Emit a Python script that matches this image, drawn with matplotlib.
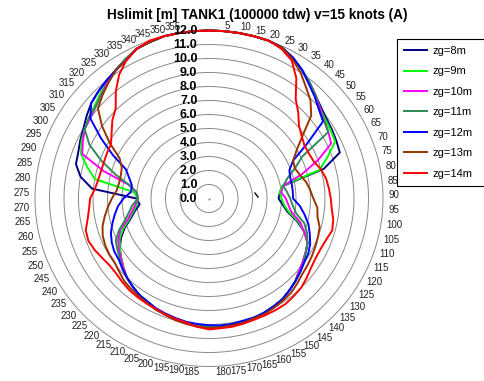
import matplotlib
matplotlib.use('Agg')
import matplotlib.pyplot as plt
import numpy as np

plt.rcParams['font.family'] = ['Liberation Sans', 'DejaVu Sans']

# headings every 5 degrees, clockwise from the top
angles = np.arange(0, 360, 5)

zg_8 = [12.0, 12.0, 12.0, 12.0, 12.0, 11.9, 11.6, 11.2, 10.8, 10.4, 10.1, 9.9,
        9.8, 9.7, 9.6, 8.2, 5.2, 4.9, 4.8, 5.1, 5.5, 6.3, 7.0, 7.5,
        7.7, 7.9, 8.1, 8.4, 8.6, 8.8, 8.9, 9.0, 9.1, 9.1, 9.15, 9.2,
        9.2, 9.05, 9.0, 8.9, 8.8, 8.7, 8.5, 8.4, 8.2, 8.0, 7.7, 7.4,
        7.1, 6.7, 6.2, 5.6, 5.2, 4.8, 5.0, 8.1, 9.0, 9.5, 9.6, 9.8,
        10.0, 10.3, 10.6, 10.8, 11.0, 11.2, 11.5, 11.8, 11.9, 12.0, 12.0, 12.0]
zg_9 = [12.0, 12.0, 12.0, 12.0, 12.0, 11.9, 11.6, 11.2, 10.8, 10.4, 10.0, 9.8,
        9.7, 9.6, 8.7, 7.9, 5.1, 4.9, 5.0, 5.2, 5.6, 6.4, 7.0, 7.5,
        7.7, 7.9, 8.1, 8.4, 8.6, 8.8, 8.9, 9.0, 9.1, 9.1, 9.15, 9.2,
        9.2, 9.05, 9.0, 8.9, 8.8, 8.7, 8.5, 8.4, 8.2, 8.0, 7.7, 7.4,
        7.1, 6.8, 6.3, 5.7, 5.3, 5.0, 4.9, 5.2, 8.0, 8.7, 9.4, 9.7,
        9.9, 10.1, 10.3, 10.6, 10.9, 11.2, 11.5, 11.8, 11.9, 12.0, 12.0, 12.0]
zg_10 = [12.0, 12.0, 12.0, 12.0, 12.0, 11.9, 11.6, 11.2, 10.8, 10.4, 10.0, 9.7,
         9.5, 9.3, 8.0, 6.6, 5.2, 5.0, 5.3, 5.5, 5.8, 6.5, 7.0, 7.5,
         7.7, 7.9, 8.1, 8.4, 8.6, 8.8, 8.9, 9.0, 9.1, 9.1, 9.15, 9.2,
         9.2, 9.05, 9.0, 8.9, 8.8, 8.7, 8.5, 8.4, 8.2, 8.0, 7.7, 7.4,
         7.2, 6.9, 6.5, 5.8, 5.4, 5.1, 4.9, 5.0, 5.6, 7.5, 9.3, 9.6,
         9.9, 10.0, 10.2, 10.5, 10.9, 11.2, 11.5, 11.8, 11.9, 12.0, 12.0, 12.0]
zg_11 = [12.0, 12.0, 12.0, 12.0, 12.0, 11.9, 11.6, 11.2, 10.8, 10.4, 9.9, 9.7,
         9.5, 7.1, 6.3, 5.6, 5.2, 5.4, 5.6, 5.8, 6.1, 6.8, 7.2, 7.5,
         7.7, 8.0, 8.2, 8.4, 8.6, 8.8, 8.9, 9.0, 9.1, 9.1, 9.15, 9.2,
         9.2, 9.05, 9.0, 8.9, 8.8, 8.7, 8.5, 8.4, 8.2, 8.0, 7.8, 7.5,
         7.3, 7.1, 6.6, 6.0, 5.6, 5.3, 4.9, 5.0, 5.6, 6.7, 7.9, 9.1,
         9.9, 10.1, 10.2, 10.5, 10.8, 11.2, 11.5, 11.8, 11.9, 12.0, 12.0, 12.0]
zg_12 = [12.0, 12.0, 12.0, 12.0, 12.0, 11.9, 11.6, 11.2, 10.7, 10.3, 9.9, 9.6,
         7.8, 6.4, 5.9, 5.8, 5.8, 5.8, 5.8, 6.3, 6.7, 7.1, 7.4, 7.7,
         7.9, 8.0, 8.2, 8.4, 8.6, 8.8, 8.9, 9.0, 9.05, 9.05, 9.1, 9.1,
         9.05, 9.0, 8.95, 8.85, 8.75, 8.65, 8.5, 8.4, 8.2, 8.0, 7.8, 7.6,
         7.55, 7.4, 7.2, 6.9, 6.6, 6.3, 5.9, 5.4, 5.4, 5.7, 6.1, 7.3,
         8.6, 10.0, 10.6, 10.8, 11.0, 11.2, 11.4, 11.8, 11.9, 12.0, 12.0, 12.0]
zg_13 = [12.0, 12.0, 12.0, 12.0, 12.0, 11.9, 11.5, 11.0, 10.4, 9.9, 9.2, 7.9,
         7.0, 6.4, 6.3, 6.5, 6.8, 7.0, 7.2, 7.5, 7.6, 7.9, 8.0, 8.1,
         8.2, 8.3, 8.4, 8.6, 8.8, 8.9, 9.0, 9.1, 9.1, 9.2, 9.2, 9.25,
         9.25, 9.2, 9.1, 9.0, 8.85, 8.75, 8.6, 8.5, 8.4, 8.3, 8.1, 7.95,
         7.95, 7.9, 7.8, 7.6, 7.3, 7.0, 6.7, 6.4, 6.3, 6.3, 6.4, 6.8,
         7.9, 9.0, 10.0, 10.4, 10.8, 11.2, 11.4, 11.8, 11.9, 12.0, 12.0, 12.0]
zg_14 = [12.0, 12.0, 12.0, 12.0, 12.0, 11.8, 11.4, 10.5, 9.3, 8.7, 8.1, 7.8,
         7.6, 7.6, 7.7, 8.0, 8.2, 8.3, 8.4, 8.5, 8.7, 8.8, 8.6, 8.5,
         8.5, 8.6, 8.8, 9.0, 9.1, 9.2, 9.2, 9.2, 9.2, 9.25, 9.3, 9.3,
         9.35, 9.2, 9.0, 8.9, 8.8, 8.7, 8.65, 8.6, 8.55, 8.45, 8.35, 8.35,
         8.5, 8.7, 8.85, 8.8, 8.5, 8.3, 8.2, 7.9, 7.75, 7.7, 7.7, 7.75,
         7.8, 8.2, 8.7, 9.1, 10.0, 10.8, 11.4, 11.8, 12.0, 12.0, 12.0, 12.0]

series = [zg_8, zg_9, zg_10, zg_11, zg_12, zg_13, zg_14]
labels = ['zg=8m', 'zg=9m', 'zg=10m', 'zg=11m', 'zg=12m', 'zg=13m', 'zg=14m']
colors = ['#000080', '#00ff00', '#ff00ff', '#2e8b57', '#0000ff', '#993300', '#ff0000']

rings = np.arange(0, 13)
angle_ticks = np.arange(5, 360, 5)

W, H = 484, 381
cx, cy = 209, 198.5   # centre in pixels
sx, sy = 14.5, 14.0   # pixels per metre

fig = plt.figure(figsize=(W / 100, H / 100), dpi=100)
ax = fig.add_axes([0, 0, 1, 1])
ax.set_xlim(-cx / sx, (W - cx) / sx)
ax.set_ylim(-(H - cy) / sy, cy / sy)
ax.axis('off')


def to_xy(theta_deg, r):
    t = np.deg2rad(theta_deg)
    return r * np.sin(t), r * np.cos(t)


# grid circles
t = np.linspace(0, 360, 361)
for r in rings[1:]:
    x, y = to_xy(t, r)
    ax.plot(x, y, color='#888888', lw=0.7, zorder=1)

# data
handles = []
for vals, lab, col in zip(series, labels, colors):
    th = np.append(angles, 360)
    rr = np.append(vals, vals[0])
    x, y = to_xy(th, rr)
    h, = ax.plot(x, y, color=col, lw=1.4, label=lab, zorder=2)
    handles.append(h)

# radial labels
for r in rings:
    ax.text(-0.8, r, f'{r:.1f}', ha='right', va='center',
            fontsize=9, fontweight='bold', zorder=3)

# angle labels
for a in angle_ticks:
    eff = a * 356 / 360
    x, y = to_xy(eff, 12.4)
    ax.text(x, y, str(a), ha='left' if a <= 180 else 'right', va='center',
            fontsize=7, color='#222222')

ax.plot(0, 0, '.', color='#777777', ms=1)
ax.plot([3.17, 3.38], [0.39, 0.11], color='black', lw=1)

fig.text(257 / W, 1 - 15 / H, 'Hslimit [m] TANK1 (100000 tdw) v=15 knots (A)',
         ha='center', va='center', fontsize=9.8, fontweight='bold')

leg = fig.legend(handles=handles, loc='upper left',
                 bbox_to_anchor=(397 / W, 1 - 39 / H, 0.25, 0.0), mode='expand',
                 borderaxespad=0, fancybox=False, framealpha=1, edgecolor='black',
                 fontsize=8, handlelength=2.1, handletextpad=0.45,
                 labelspacing=0.94, borderpad=0.63)
leg.get_frame().set_linewidth(0.8)

fig.savefig('out.png', dpi=100)
